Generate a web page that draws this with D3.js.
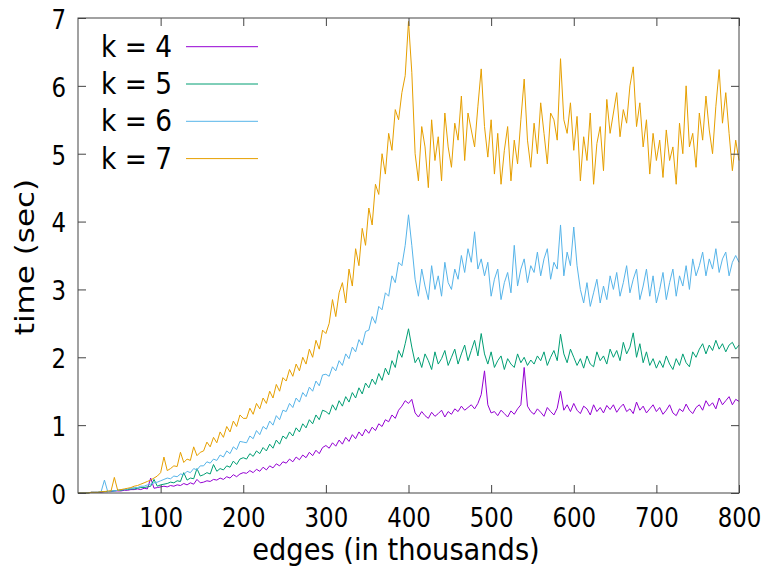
<!DOCTYPE html>
<html><head><meta charset="utf-8">
<script src="https://cdn.jsdelivr.net/npm/d3@7"></script>
<style>body{margin:0;background:#fff}svg text{font-family:"DejaVu Sans",sans-serif;fill:#000}</style>
</head><body><svg id="c" width="767" height="572"></svg>
<script>
const seriesNames = ["k = 4", "k = 5", "k = 6", "k = 7"];
const seriesColors = ["#9400d3", "#009e73", "#56b4e9", "#e69f00"];
const xTicks = [100, 200, 300, 400, 500, 600, 700, 800];
const yTicks = [0, 1, 2, 3, 4, 5, 6, 7];
// samples every 4 thousand edges (0..800)
const k4 = [0,0,0,0,0.01,0.01,0.01,0.01,0.02,0.02,0.02,0.03,0.03,0.03,0.04,
0.04,0.05,0.05,0.06,0.05,0.07,0.06,0.22,0.07,0.08,0.09,
0.1,0.09,0.11,0.1,0.12,0.11,0.14,0.12,0.15,0.13,0.2,0.15,
0.16,0.18,0.17,0.2,0.19,0.22,0.2,0.24,0.22,0.27,0.24,0.28,0.3,
0.29,0.33,0.3,0.35,0.32,0.38,0.34,0.4,0.37,0.43,0.4,0.46,
0.44,0.5,0.46,0.53,0.49,0.56,0.52,0.6,0.55,0.63,0.58,0.67,0.7,
0.66,0.74,0.69,0.78,0.72,0.82,0.76,0.86,0.8,0.9,0.84,0.94,
0.88,0.97,0.92,1.02,0.98,1.08,1.05,1.15,1.1,1.22,1.28,1.36,
1.32,
1.38,1.18,1.12,1.2,1.14,1.1,1.19,1.13,1.17,1.22,1.12,1.2,
1.16,1.24,1.2,1.28,1.22,1.26,1.3,1.24,1.32,1.45,
1.8,1.3,1.18,
1.2,1.14,1.22,1.17,1.12,1.21,1.16,1.24,1.3,
1.85,1.28,1.2,
1.16,1.24,1.19,1.13,1.26,1.2,1.15,1.25,1.5,1.22,1.3,1.2,1.32,
1.22,1.17,1.28,1.24,1.15,1.3,1.2,1.26,1.18,1.29,1.23,1.3,
1.19,1.26,1.31,1.2,1.24,1.17,1.34,1.22,1.28,1.18,1.24,1.3,1.2,
1.26,1.16,1.22,1.3,1.18,1.14,1.24,1.2,1.31,1.22,1.17,1.26,
1.3,1.22,1.36,1.28,1.33,1.24,1.4,1.3,1.36,1.42,1.3,1.38,1.35];
const k5 = [0,0,0,0,0.01,0.01,0.01,0.02,0.02,0.02,0.03,0.03,0.04,0.04,0.05,
0.05,0.06,0.06,0.07,0.08,0.08,0.09,0.1,0.2,0.1,0.12,
0.13,0.14,0.16,0.15,0.18,0.17,0.3,0.19,0.22,0.21,0.36,0.25,
0.27,0.3,0.28,0.42,0.32,0.36,0.34,0.4,0.38,0.47,0.42,0.5,0.52,
0.5,0.58,0.54,0.62,0.58,0.67,0.62,0.72,0.66,0.78,0.72,0.84,
0.8,0.9,0.84,0.96,0.9,1.02,0.96,1.08,1.02,1.15,1.08,1.22,1.2,
1.16,1.3,1.22,1.36,1.28,1.42,1.34,1.48,1.4,1.55,1.46,1.62,
1.55,1.68,1.6,1.76,1.66,1.84,1.74,1.95,1.85,2.1,2.0,2.2,
2.42,
2.15,1.92,2.0,1.85,2.05,1.95,1.82,2.08,1.9,1.98,2.1,1.88,
2.0,2.12,1.9,2.05,2.18,1.95,2.1,2.25,2.02,2.35,
2.05,1.9,2.08,
1.85,1.95,2.02,1.82,1.98,1.9,1.85,2.05,1.92,
2.0,1.88,1.96,
1.9,2.02,1.95,2.08,1.88,2.0,2.1,1.95,2.34,2.05,1.92,2.12,2.0,
1.88,1.98,1.84,2.02,1.9,1.86,2.08,1.95,2.02,1.9,2.12,2.0,
2.1,1.95,2.22,2.05,2.15,2.36,2.0,2.2,1.92,2.08,1.88,1.98,1.84,
1.95,1.85,2.02,1.9,1.82,1.98,1.88,2.05,1.92,1.86,2.08,2.0,
2.12,2.2,2.05,2.18,2.1,2.25,2.12,2.2,2.08,2.18,2.22,2.12,2.18];
const k6 = [0,0,0,0,0.01,0.01,0.01,0.02,0.19,0.02,0.03,0.03,0.04,0.05,0.05,
0.06,0.07,0.08,0.08,0.1,0.1,0.12,0.13,0.15,0.16,0.18,
0.2,0.22,0.21,0.25,0.24,0.28,0.27,0.32,0.3,0.36,0.34,0.4,
0.4,0.46,0.44,0.5,0.48,0.56,0.53,0.62,0.58,0.68,0.64,0.76,0.75,
0.74,0.84,0.8,0.92,0.86,0.98,0.94,1.06,1.0,1.14,1.08,1.22,
1.2,1.32,1.26,1.4,1.34,1.48,1.42,1.56,1.5,1.65,1.58,1.74,1.75,
1.72,1.86,1.8,1.95,1.88,2.05,1.98,2.15,2.08,2.26,2.18,2.38,
2.4,2.6,2.5,2.75,2.7,2.95,2.9,3.2,3.1,3.4,3.35,3.65,
4.1,
3.65,3.15,2.9,3.3,3.05,2.85,3.35,3.0,3.2,2.9,3.4,3.1,
3.0,3.3,3.15,3.5,3.25,3.6,3.4,3.85,3.3,3.45,
3.2,3.4,2.9,
3.15,3.3,2.85,3.1,3.25,2.95,3.65,3.05,3.3,
3.45,3.1,3.35,
3.25,3.55,3.2,3.45,3.6,3.15,3.4,3.3,3.95,3.2,3.55,3.35,3.92,
3.35,3.0,2.8,3.1,2.75,2.95,3.15,2.8,3.05,2.85,3.2,3.0,
3.25,2.9,3.1,3.35,2.95,3.15,3.3,2.85,3.05,3.3,2.9,3.2,2.8,
3.0,3.25,2.85,3.1,3.3,2.9,3.2,3.05,3.35,3.0,3.45,3.2,
3.35,3.55,3.2,3.45,3.3,3.6,3.25,3.45,3.55,3.2,3.4,3.5,3.4];
const k7 = [0,0,0,0,0.01,0.01,0.01,0.02,0.02,0.03,0.03,0.23,0.04,0.05,0.06,
0.07,0.08,0.1,0.11,0.13,0.15,0.17,0.19,0.22,0.25,0.3,
0.53,0.33,0.36,0.4,0.39,0.6,0.45,0.5,0.48,0.68,0.55,0.6,
0.62,0.75,0.68,0.82,0.74,0.9,0.82,0.98,0.9,1.06,0.98,1.15,1.1,
1.1,1.25,1.16,1.32,1.24,1.4,1.32,1.5,1.4,1.6,1.5,1.7,
1.65,1.82,1.72,1.9,1.8,2.0,1.9,2.12,2.0,2.25,2.12,2.4,2.35,
2.5,2.85,2.6,2.95,3.1,2.8,3.3,3.05,3.6,3.35,3.9,3.65,
4.2,3.95,4.55,4.4,5.0,4.7,5.3,5.05,5.65,5.5,5.9,6.15,
6.95,
6.2,5.0,4.6,5.4,5.1,4.5,5.5,4.9,5.25,4.6,5.6,5.1,
4.8,5.45,5.2,5.85,4.9,5.6,5.35,5.1,5.7,6.25,
5.4,4.95,5.5,
4.7,5.3,4.55,5.05,5.4,4.6,5.2,4.85,5.5,
6.1,5.2,4.8,
5.45,5.0,5.75,5.3,4.85,5.6,5.5,5.2,6.4,5.5,5.3,5.75,5.05,
5.55,4.6,5.25,4.9,5.6,4.55,5.15,5.4,4.75,5.8,5.3,5.6,
5.9,5.25,5.65,5.45,6.0,6.28,5.4,5.75,5.1,5.5,4.7,5.3,4.9,
5.2,4.65,5.35,4.9,5.1,4.55,5.45,5.0,6.0,5.1,5.3,4.8,
5.6,5.2,5.85,5.35,5.0,5.7,6.24,5.45,5.9,5.3,4.75,5.2,4.9];
const allSeries = [k4, k5, k6, k7];
const sampleStep = 4;

const SX = 0.88;
const svg = d3.select("#c");
const M = {l: 78, r: 739, t: 18, b: 493};
const x = d3.scaleLinear().domain([0, 800]).range([M.l, M.r]);
const y = d3.scaleLinear().domain([0, 7]).range([M.b, M.t]);
const axisColor = "#444";

// series
const line = d3.line().x((d, i) => x(i * sampleStep)).y(d => y(d));
allSeries.forEach((s, k) => {
  svg.append("path").datum(s).attr("d", line)
    .attr("fill", "none").attr("stroke", seriesColors[k])
    .attr("stroke-width", 1).attr("stroke-linejoin", "round");
});

function styleAxis(g, hideText) {
  g.select(".domain").remove();
  g.selectAll(".tick line").attr("stroke", axisColor);
  if (hideText) g.selectAll(".tick text").remove();
}
const gB = svg.append("g").attr("transform", `translate(0,${M.b})`)
  .call(d3.axisBottom(x).tickValues(xTicks).tickFormat(d3.format("d")).tickSizeInner(-8).tickSizeOuter(0).tickPadding(15.5));
styleAxis(gB, false);
gB.selectAll(".tick text").attr("font-size", 26).attr("font-family", "DejaVu Sans").attr("fill", "#000")
  .attr("transform", `scale(${SX},1)`);
const gT = svg.append("g").attr("transform", `translate(0,${M.t})`)
  .call(d3.axisTop(x).tickValues(xTicks).tickSizeInner(-8).tickSizeOuter(0));
styleAxis(gT, true);
const gL = svg.append("g").attr("transform", `translate(${M.l},0)`)
  .call(d3.axisLeft(y).tickValues(yTicks).tickFormat(d3.format("d")).tickSizeInner(-8).tickSizeOuter(0).tickPadding(13.6));
styleAxis(gL, false);
gL.selectAll(".tick text").attr("font-size", 26).attr("font-family", "DejaVu Sans").attr("fill", "#000")
  .attr("dy", "0.4em").attr("transform", `scale(${SX},1)`);
const gR = svg.append("g").attr("transform", `translate(${M.r},0)`)
  .call(d3.axisRight(y).tickValues(yTicks).tickSizeInner(-8).tickSizeOuter(0));
styleAxis(gR, true);

// frame
svg.append("rect").attr("x", M.l).attr("y", M.t).attr("width", M.r - M.l).attr("height", M.b - M.t)
  .attr("fill", "none").attr("stroke", axisColor).attr("stroke-width", 1);

// axis titles
svg.append("g").attr("transform", `translate(396,560) scale(${SX},1)`)
  .append("text").attr("text-anchor", "middle").attr("font-size", 31).text("edges (in thousands)");
svg.append("g").attr("transform", `translate(34,257) scale(${SX},1) rotate(-90)`)
  .append("text").attr("text-anchor", "middle").attr("font-size", 31).text("time (sec)");

// legend
seriesNames.forEach((name, k) => {
  svg.append("g").attr("transform", `translate(101,${57 + 37.2 * k}) scale(${SX},1)`)
    .append("text").attr("font-size", 30).text(name);
  svg.append("line").attr("x1", 186).attr("x2", 258)
    .attr("y1", 46.7 + 37.3 * k).attr("y2", 46.7 + 37.3 * k)
    .attr("stroke", seriesColors[k]).attr("stroke-width", 1);
});
</script></body></html>
